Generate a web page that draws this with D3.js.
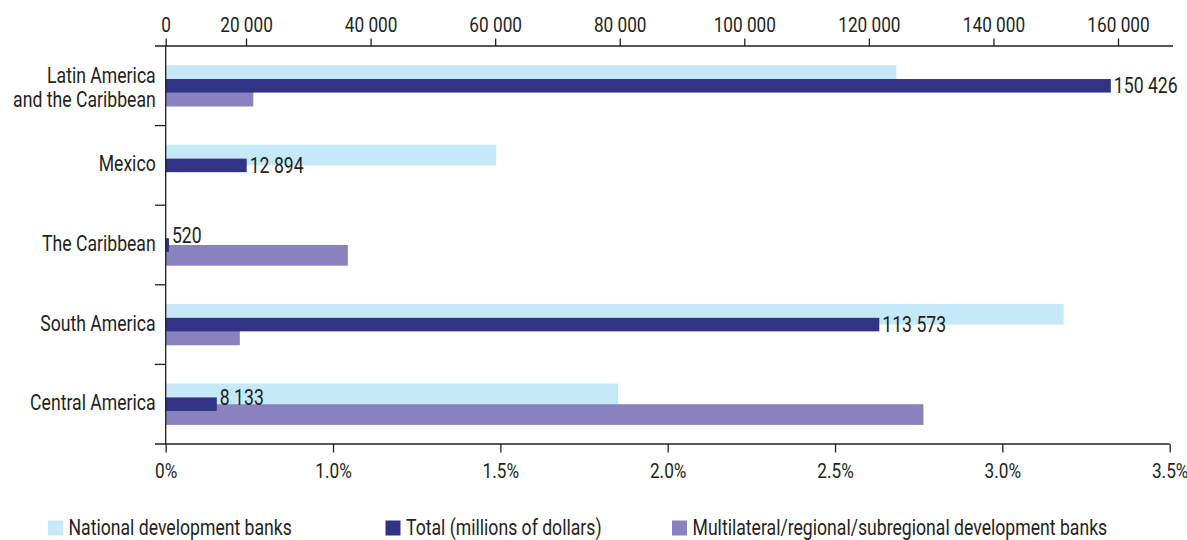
<!DOCTYPE html>
<html>
<head>
<meta charset="utf-8">
<script src="https://cdn.jsdelivr.net/npm/d3@7/dist/d3.min.js"></script>
<style>
  html, body { margin: 0; padding: 0; background: #fff; }
  svg text { font-family: Roboto, "Liberation Sans", sans-serif; fill: #231f20; }
</style>
</head>
<body>
<svg id="chart" width="1187" height="540"></svg>
<script>
// ---- data ----
const categories = ["Latin America and the Caribbean", "Mexico", "The Caribbean", "South America", "Central America"];
const categoryLines = [["Latin America", "and the Caribbean"], ["Mexico"], ["The Caribbean"], ["South America"], ["Central America"]];
const nationalPct = [2.544, 1.151, 0, 3.126, 1.575];          // % (bottom axis)
const multilateralPct = [0.305, 0, 0.634, 0.258, 2.638];       // % (bottom axis)
const totalMillions = [150426, 12894, 520, 113573, 8133];      // millions of dollars (top axis)
const topTicks = [0, 20000, 40000, 60000, 80000, 100000, 120000, 140000, 160000];
const bottomTickLabels = ["0%", "1.0%", "1.5%", "2.0%", "2.5%", "3.0%", "3.5%"];
const seriesNames = ["National development banks", "Total (millions of dollars)", "Multilateral/regional/subregional development banks"];
const colors = { national: "#c6e9f8", total: "#313486", multilateral: "#8882be" };

// label nudges (vertical, px) for the value labels
const labelNudge = [0, 0, -9.5, 0, -7];

// ---- layout ----
const svg = d3.select("#chart");
const x0 = 165.7, x1 = 1171, yTop = 46, yBot = 444;
const W = x1 - x0;
const SX = 0.82; // horizontal compression to mimic a condensed typeface

const fmt = d3.formatLocale({ decimal: ".", thousands: " ", grouping: [3], currency: ["", ""] }).format(",d");

const xTotal = d3.scaleLinear().domain([0, 160000]).range([x0, x1]);
const xPct = d3.scaleLinear().domain([0, 3.5]).range([x0, x1]);
// axis scales as drawn in the original figure
const xTopAxis = d3.scaleLinear().domain([0, 20000, 160000]).range([x0, x0 + W * 0.0799, x0 + W * 0.9473]);
const xBottomAxis = d3.scalePoint().domain(bottomTickLabels).range([x0, x0 + W * 0.9987]);

const y = d3.scaleBand().domain(categories).range([yTop, yBot]).padding(0);
const bw = y.bandwidth();
const center = c => y(c) + bw / 2;
const sub = d3.scaleBand().domain(["national", "multilateral"]).range([-0.26 * bw, 0.26 * bw]);
const totalH = 0.17 * bw;

const rows = categories.map((c, i) => ({
  c, i,
  national: nationalPct[i],
  multilateral: multilateralPct[i],
  total: totalMillions[i]
}));

const g = svg.append("g");

// percentage bars
["national", "multilateral"].forEach(k => {
  g.selectAll(".bar-" + k).data(rows.filter(d => d[k] > 0)).enter().append("rect")
    .attr("x", xPct(0))
    .attr("y", d => center(d.c) + sub(k))
    .attr("width", d => xPct(d[k]) - xPct(0))
    .attr("height", sub.bandwidth())
    .attr("fill", colors[k]);
});

// total bars (on top)
g.selectAll(".bar-total").data(rows).enter().append("rect")
  .attr("x", xTotal(0))
  .attr("y", d => center(d.c) - totalH / 2)
  .attr("width", d => xTotal(d.total) - xTotal(0))
  .attr("height", totalH)
  .attr("fill", colors.total);

// value labels
g.selectAll(".val").data(rows).enter().append("text")
  .attr("x", d => xTotal(d.total) + 3)
  .attr("y", d => center(d.c) + 7.5 + labelNudge[d.i])
  .attr("font-size", 21.5)
  .text(d => fmt(d.total));

// ---- axes ----
const axisColor = "#231f20";
// top axis
const topAxis = d3.axisTop(xTopAxis).tickValues(topTicks).tickSize(7.5).tickSizeOuter(0).tickPadding(7).tickFormat(fmt);
const gt = svg.append("g").attr("transform", `translate(0,${yTop})`).call(topAxis);
gt.select(".domain").remove();
gt.selectAll("line").attr("stroke", axisColor).attr("stroke-width", 1.3);
gt.selectAll("text").attr("font-size", 21).attr("font-family", null);
svg.append("line").attr("x1", x0 - 10.7).attr("x2", x1 + 2).attr("y1", yTop).attr("y2", yTop)
  .attr("stroke", axisColor).attr("stroke-width", 1.3);

// bottom axis
const botAxis = d3.axisBottom(xBottomAxis).tickSize(8.5).tickSizeOuter(0).tickPadding(11);
const gb = svg.append("g").attr("transform", `translate(0,${yBot})`).call(botAxis);
gb.select(".domain").remove();
gb.selectAll("line").attr("stroke", axisColor).attr("stroke-width", 1.3);
gb.selectAll("text").attr("font-size", 21).attr("font-family", null);
svg.append("line").attr("x1", x0 - 10.7).attr("x2", xBottomAxis.range()[1]).attr("y1", yBot).attr("y2", yBot)
  .attr("stroke", axisColor).attr("stroke-width", 1.3);

// left axis
svg.append("line").attr("x1", x0).attr("x2", x0).attr("y1", yTop).attr("y2", yBot)
  .attr("stroke", axisColor).attr("stroke-width", 1.3);
svg.selectAll(".ltick").data(categories.slice(1)).enter().append("line")
  .attr("x1", x0 - 10.7).attr("x2", x0)
  .attr("y1", d => y(d)).attr("y2", d => y(d))
  .attr("stroke", axisColor).attr("stroke-width", 1.3);

// category labels
const cl = svg.selectAll(".cat").data(rows).enter().append("text")
  .attr("text-anchor", "end")
  .attr("font-size", 21.5)
  .attr("x", x0 - 10);
cl.each(function (d) {
  const lines = categoryLines[d.i];
  const t = d3.select(this);
  if (lines.length === 1) {
    t.append("tspan").attr("x", x0 - 10).attr("y", center(d.c) + 6).text(lines[0]);
  } else {
    lines.forEach((ln, j) => {
      t.append("tspan").attr("x", x0 - 10).attr("y", center(d.c) - 2.5 + j * 23.5).text(ln);
    });
  }
});

// ---- legend ----
const legendKeys = ["national", "total", "multilateral"];
const legendX = [48, 385.5, 672];
const lg = svg.selectAll(".leg").data(legendKeys).enter().append("g")
  .attr("transform", (d, i) => `translate(${legendX[i]},520.5)`);
lg.append("rect").attr("width", 15).attr("height", 15).attr("fill", d => colors[d]);
lg.append("text").attr("x", 20.5).attr("y", 14.5).attr("font-size", 21.5).text((d, i) => seriesNames[i]);

// condense all text horizontally around its anchor point
svg.selectAll("text").each(function () {
  const t = d3.select(this);
  const ax = +t.attr("x") || 0;
  t.attr("transform", `translate(${ax},0) scale(${SX},1) translate(${-ax},0)`);
});
</script>
</body>
</html>
